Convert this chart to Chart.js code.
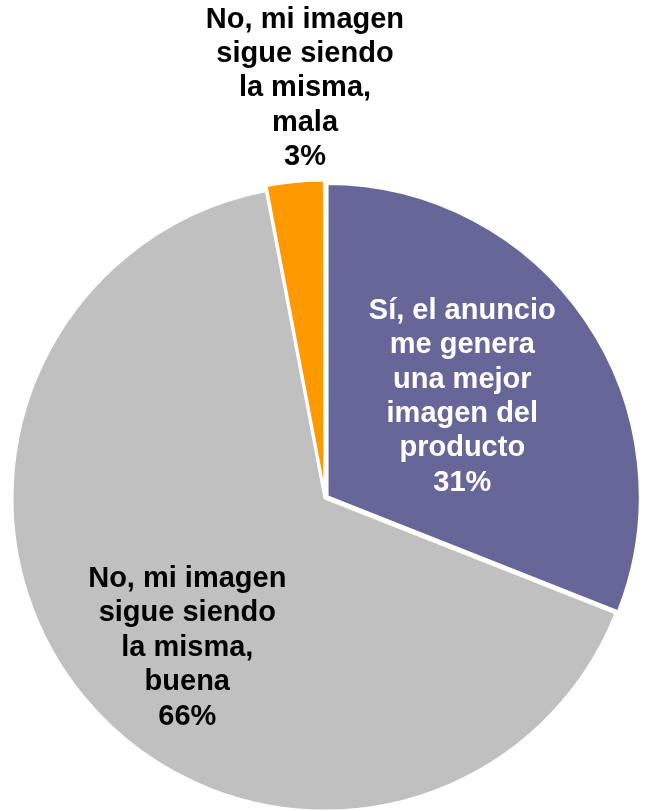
<!DOCTYPE html>
<html>
<head>
<meta charset="utf-8">
<script src="https://cdn.jsdelivr.net/npm/chart.js@4"></script>
<style>
  html, body { margin: 0; padding: 0; background: #fff; }
  #wrap { width: 646px; height: 811px; position: relative; }
</style>
</head>
<body>
<div id="wrap"><canvas id="pie"></canvas></div>
<script>
const labels = [
  ['Sí, el anuncio', 'me genera', 'una mejor', 'imagen del', 'producto'],
  ['No, mi imagen', 'sigue siendo', 'la misma,', 'buena'],
  ['No, mi imagen', 'sigue siendo', 'la misma,', 'mala']
];
const values = [31, 66, 3];
const colors = ['#666699', '#C0C0C0', '#FF9900'];
const textColors = ['#ffffff', '#000000', '#000000'];

// label anchor: fraction of radius and small angle nudge (degrees)
const labelPos = [[0.545, -2.2], [0.65, -7.8], [1.31, 2.6]];

const sliceLabels = {
  id: 'sliceLabels',
  afterDatasetsDraw(chart) {
    const ctx = chart.ctx;
    const meta = chart.getDatasetMeta(0);
    const total = values.reduce((a, b) => a + b, 0);
    ctx.save();
    ctx.font = 'bold 29px "Liberation Sans", Arial, sans-serif';
    ctx.textAlign = 'center';
    ctx.textBaseline = 'middle';
    meta.data.forEach((arc, i) => {
      const p = arc.getProps(['x', 'y', 'startAngle', 'endAngle', 'outerRadius']);
      const mid = (p.startAngle + p.endAngle) / 2 + labelPos[i][1] * Math.PI / 180;
      const r = p.outerRadius * labelPos[i][0];
      const cx = p.x + Math.cos(mid) * r;
      const cy = p.y + Math.sin(mid) * r;
      const lines = labels[i].concat([Math.round(values[i] / total * 100) + '%']);
      const lh = 34.4;
      const y0 = cy - (lines.length - 1) * lh / 2;
      ctx.fillStyle = textColors[i];
      lines.forEach((t, k) => ctx.fillText(t, cx, y0 + k * lh));
    });
    ctx.restore();
  }
};

new Chart(document.getElementById('pie'), {
  type: 'pie',
  data: {
    labels: labels.map(l => l.join(' ')),
    datasets: [{
      data: values,
      backgroundColor: colors,
      borderColor: '#ffffff',
      borderWidth: 3,
      offset: [10, 0, 11]
    }]
  },
  options: {
    responsive: true,
    maintainAspectRatio: false,
    animation: false,
    radius: 313,
    layout: { padding: { left: 4, right: 0, top: 185, bottom: 0 } },
    plugins: {
      legend: { display: false },
      tooltip: { enabled: false }
    }
  },
  plugins: [sliceLabels]
});
</script>
</body>
</html>
